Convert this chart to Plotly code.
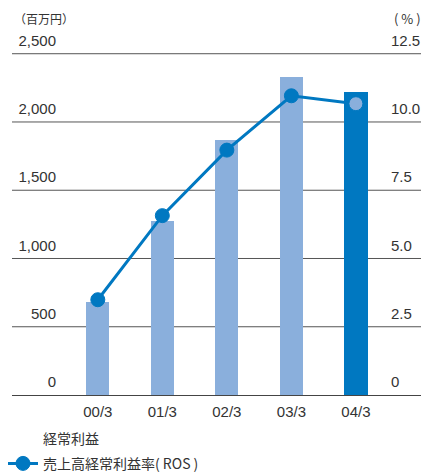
import plotly.graph_objects as go

categories = ["00/3", "01/3", "02/3", "03/3", "04/3"]
ordinary_profit = [683, 1276, 1869, 2333, 2220]
ros = [3.49, 6.57, 8.97, 10.96, 10.67]
bar_colors = ["#8AAFDC", "#8AAFDC", "#8AAFDC", "#8AAFDC", "#0078C1"]
marker_colors = ["#0078C1", "#0078C1", "#0078C1", "#0078C1", "#8AAFDC"]
left_ticks = [0, 500, 1000, 1500, 2000, 2500]
left_labels = ["0", "500", "1,000", "1,500", "2,000", "2,500"]
right_ticks = [0, 2.5, 5.0, 7.5, 10.0, 12.5]
right_labels = ["0", "2.5", "5.0", "7.5", "10.0", "12.5"]

NUM_FONT = "Liberation Sans Narrow, Arial Narrow, Liberation Sans, sans-serif"
CJK_FONT = "Noto Sans CJK JP, sans-serif"
TXT = "#333333"
GRID = "#555555"

fig = go.Figure()
fig.add_trace(go.Bar(
    x=categories, y=ordinary_profit, marker=dict(color=bar_colors, line=dict(width=0)),
    width=0.36, showlegend=False, yaxis="y", hoverinfo="skip",
))
fig.add_trace(go.Scatter(
    x=[None], y=[None], mode="lines", line=dict(color="rgba(0,0,0,0)", width=0),
    name="経常利益", legendgroup="a",
))
fig.add_trace(go.Scatter(
    x=categories, y=ros, mode="lines+markers", yaxis="y2",
    line=dict(color="#0078C1", width=3),
    marker=dict(size=14, color=marker_colors, line=dict(color="#0078C1", width=1)),
    name="売上高経常利益率( ROS )", legendgroup="b",
))

# horizontal gridlines at the left-axis tick values (drawn under the bars)
for t in left_ticks[1:]:
    fig.add_shape(type="line", xref="paper", x0=0, x1=1, yref="y", y0=t, y1=t,
                  line=dict(color=GRID, width=1), layer="below")

top = 2520
fig.update_layout(
    width=421, height=466,
    margin=dict(l=4, r=6, t=43, b=79, autoexpand=False),
    paper_bgcolor="white", plot_bgcolor="white",
    bargap=0,
    xaxis=dict(
        type="category", range=[-1.33, 5.04], showgrid=False,
        showline=True, linecolor="#444444", linewidth=1,
        ticks="", ticklabelstandoff=3, tickfont=dict(family=NUM_FONT, size=15, color=TXT),
        fixedrange=True, automargin=False,
    ),
    yaxis=dict(
        range=[0, top], tickvals=left_ticks, ticktext=left_labels,
        showgrid=False, zeroline=False,
        ticks="", ticklabelposition="outside", ticklabelstandoff=-45, ticklabelshift=-13,
        tickfont=dict(family=NUM_FONT, size=15, color=TXT), automargin=False,
    ),
    yaxis2=dict(
        range=[0, top / 200.0], tickvals=right_ticks, ticktext=right_labels,
        overlaying="y", side="right", showgrid=False, zeroline=False,
        ticks="", ticklabelposition="outside", ticklabelstandoff=-33, ticklabelshift=-13,
        tickfont=dict(family=NUM_FONT, size=15, color=TXT), automargin=False,
    ),
    legend=dict(
        x=-0.0219, y=-0.2459, xanchor="left", yanchor="bottom",
        font=dict(family=CJK_FONT, size=14, color=TXT),
        traceorder="grouped", tracegroupgap=4, bgcolor="rgba(0,0,0,0)",
    ),
    annotations=[
        dict(text="（百万円）", xref="paper", yref="paper", x=0.0, y=1.0, yshift=33,
             xanchor="left", yanchor="middle", showarrow=False,
             font=dict(family=CJK_FONT, size=12, color=TXT)),
        dict(text="( % )", xref="paper", yref="paper", x=1.0, y=1.0, yshift=33,
             xanchor="right", yanchor="middle", showarrow=False,
             font=dict(family=CJK_FONT, size=13, color=TXT)),
    ],
)
fig.write_html("out.html")
